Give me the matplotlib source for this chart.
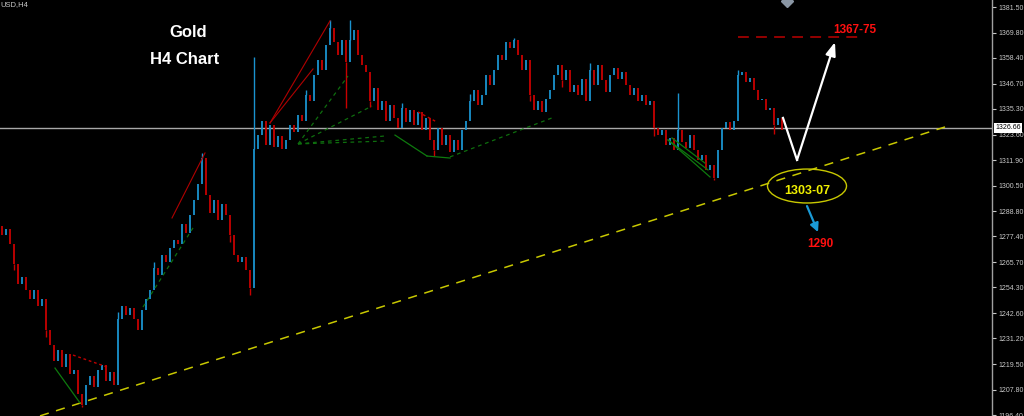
import matplotlib
matplotlib.use("Agg")
import matplotlib.pyplot as plt
from matplotlib.patches import Ellipse
import numpy as np

# ---------------- data ----------------
first_open = 1282.0
closes = [
    1278, 1281, 1274, 1265, 1256, 1259, 1253, 1249, 1253, 1246,
    1249, 1235, 1228, 1221, 1226, 1218, 1224, 1215, 1217, 1206,
    1201, 1210, 1214, 1209, 1217, 1219, 1212, 1216, 1210, 1240,
    1246, 1242, 1245, 1240, 1235, 1244, 1249, 1253, 1263, 1260,
    1269, 1266, 1272, 1276, 1274, 1283, 1279, 1287, 1294, 1301,
    1313, 1296, 1288, 1294, 1285, 1292, 1287, 1278, 1269, 1266,
    1268, 1262, 1254, 1317, 1323.5, 1330, 1319, 1328, 1318, 1323,
    1317, 1321, 1328, 1325, 1332.5, 1330, 1341.6, 1339, 1350.7, 1357.5,
    1353, 1364.3, 1372, 1365.6, 1359.7, 1366.6, 1356.6, 1366.6, 1371, 1359.7,
    1355, 1352, 1339, 1344.8, 1334.8, 1339, 1330, 1337, 1331, 1326.6,
    1335.7, 1329.3, 1334.8, 1328, 1334, 1325.7, 1331, 1321, 1316.6, 1326.6,
    1319, 1323.5, 1315.7, 1321, 1316.6, 1325.7, 1330, 1339, 1343.9, 1337,
    1341.6, 1350.7, 1346, 1353, 1359.7, 1357.5, 1365.6, 1363, 1366.6, 1359.7,
    1353, 1357.5, 1341.6, 1334.8, 1339, 1334, 1340, 1343.9, 1350.7, 1355,
    1348.4, 1353, 1343, 1346, 1341.6, 1349, 1339, 1353, 1346, 1355,
    1348.4, 1343, 1350.7, 1353.8, 1349, 1352, 1346, 1341.6, 1344.8, 1339,
    1341.6, 1337, 1339, 1326.6, 1323.5, 1325.7, 1319, 1322, 1316.6, 1325.7,
    1320.3, 1317.5, 1323.5, 1316.6, 1312, 1314.4, 1307.6, 1310, 1304, 1316.6,
    1326.6, 1329.3, 1325.7, 1330, 1350.7, 1352, 1347.5, 1349.3, 1343.9, 1339.3,
    1340, 1334.8, 1335.7, 1328, 1331, 1325.7,
]
spike_idx = [3, 11, 20, 29, 38, 50, 57, 62, 63, 76, 82, 86, 87, 92, 100, 108,
             117, 128, 132, 140, 147, 163, 169, 178, 184, 193]
spike_price = [1262, 1232, 1200, 1243, 1266, 1315.3, 1275, 1250.9, 1358.8, 1344,
               1375.6, 1335.7, 1375.6, 1336, 1338, 1314, 1342, 1367.5, 1339,
               1345, 1356, 1323, 1342.5, 1303, 1353, 1324]

current_price = 1326.66
ytick_vals = [1196.40, 1207.80, 1219.50, 1231.20, 1242.60, 1254.30, 1265.70,
              1277.40, 1288.80, 1300.50, 1311.90, 1323.60, 1335.30, 1346.70,
              1358.40, 1369.80, 1381.50]

trend_x = [9.5, 235.75]
trend_y = [1196.0, 1327.1]
target_x = [184, 215.25]
target_price = 1367.9
path_x = [195.25, 198.75, 208.25]
path_y = [1331.2, 1312.1, 1365.6]
support_center = (201.25, 1300.3)
down_arrow_x = [201.25, 204.0]
down_arrow_y = [1291.2, 1279.4]

red_solid = [((67, 1328.9), (82, 1375.2)), ((67, 1328.9), (77.75, 1353.4)),
             ((42.5, 1285.8), (50.75, 1315.3))]
red_dotted = [((17.75, 1223.6), (26.25, 1218.2)), ((104, 1333.9), (108.75, 1329.3))]
green_dashed = [((74, 1319.4), (86.5, 1350.2)), ((74, 1319.4), (92.5, 1336.6)),
                ((74, 1319.4), (95.75, 1323.0)), ((74, 1319.4), (95.75, 1320.7)),
                ((112, 1313.5), (137.5, 1331.2)), ((35.25, 1245.4), (47.75, 1281.3))]
green_solid = [((98.25, 1323.4), (106.25, 1313.9)), ((106.25, 1313.9), (112, 1313.0)),
               ((166.5, 1321.2), (177, 1304.4)), ((166.5, 1321.2), (176.5, 1307.6)),
               ((167.5, 1322.1), (175.75, 1310.7)), ((13.25, 1217.7), (19.5, 1201.9))]

# ---------------- figure ----------------
plt.rcParams['font.family'] = ['DejaVu Sans']
fig = plt.figure(figsize=(10.24, 4.16), dpi=100, facecolor='black')
ax = fig.add_axes([0, 0, 992 / 1024, 1])
ax.set_facecolor('black')

BLUE = '#1a93cf'
RED = '#c80000'

opens = [first_open] + closes[:-1]
xs = np.arange(len(closes))
cols = [BLUE if c >= o else RED for o, c in zip(opens, closes)]
ax.vlines(xs, opens, closes, colors=cols, linewidth=1.3, zorder=3)
for i, p in zip(spike_idx, spike_price):
    ref = max(opens[i], closes[i]) if p > closes[i] else min(opens[i], closes[i])
    ax.vlines(i, ref, p, colors=cols[i], linewidth=1.0, zorder=3)

# price line
ax.axhline(current_price, color='#a8a8a8', linewidth=1.0, zorder=2)

# trendline
ax.plot(trend_x, trend_y, color='#c8c800', linewidth=1.1, dashes=(6, 5), zorder=4)

# analysis objects
for (a, b) in red_solid:
    ax.plot([a[0], b[0]], [a[1], b[1]], color='#b00000', linewidth=0.8, zorder=4)
for (a, b) in red_dotted:
    ax.plot([a[0], b[0]], [a[1], b[1]], color='#c00000', linewidth=1.0, linestyle=(0, (2, 2)), zorder=4)
for (a, b) in green_dashed:
    ax.plot([a[0], b[0]], [a[1], b[1]], color='#0e6e0e', linewidth=0.9, linestyle=(0, (3, 3)), zorder=4)
for (a, b) in green_solid:
    ax.plot([a[0], b[0]], [a[1], b[1]], color='#0e7a0e', linewidth=0.9, zorder=4)

# target
ax.plot(target_x, [target_price, target_price], color='#a00000', linewidth=1.3, dashes=(6, 4), zorder=4)
ax.text(213.25, 1371.1, '1367-75', color='#ff1010', fontsize=8.5, fontweight='bold',
        family='Liberation Sans', ha='center', va='center', zorder=6)

# white path arrow
ax.plot(path_x[:2], path_y[:2], color='white', linewidth=1.6, zorder=5)
ax.annotate('', xy=(path_x[2], path_y[2]), xytext=(path_x[1], path_y[1]),
            arrowprops=dict(arrowstyle='-|>,head_length=0.8,head_width=0.3', color='white',
                            linewidth=1.6, shrinkA=0, shrinkB=0), zorder=5)

# support ellipse
ax.add_patch(Ellipse(support_center, 19.75, 15.4, fill=False, edgecolor='#c8c800', linewidth=1.0, zorder=5))
ax.text(201.25, 1298.0, '1303-07', color='#f0f000', fontsize=9, fontweight='bold',
        family='Liberation Sans', ha='center', va='center', zorder=6)
ax.annotate('', xy=(down_arrow_x[1], down_arrow_y[1]), xytext=(down_arrow_x[0], down_arrow_y[0]),
            arrowprops=dict(arrowstyle='-|>,head_length=0.5,head_width=0.25', color='#1a9ad6',
                            linewidth=1.6, shrinkA=0, shrinkB=0), zorder=5)
ax.text(204.5, 1274.0, '1290', color='#ff1010', fontsize=8.5, fontweight='bold',
        family='Liberation Sans', ha='center', va='center', zorder=6)

# titles
ax.text(0.1895, 0.921, 'Gold', transform=ax.transAxes, color='white', fontsize=12,
        fontweight='bold', family='Liberation Sans', ha='center', va='center')
ax.text(0.1865, 0.858, 'H4 Chart', transform=ax.transAxes, color='white', fontsize=12,
        fontweight='bold', family='Liberation Sans', ha='center', va='center')
ax.text(0.0, 0.998, 'USD,H4', transform=ax.transAxes, color='#c8c8c8', fontsize=5.5,
        family='Liberation Sans', ha='left', va='top')

# marker at top
ax.plot([196.25], [1384.2], marker='D', color='#8a96a4', markersize=6, clip_on=True, zorder=6)

# axes
ax.set_xlim(-0.5, 247.5)
ax.set_ylim(1195.95, 1384.7)
ax.set_xticks([])
ax.yaxis.tick_right()
ax.set_yticks(ytick_vals)
ax.set_yticklabels([f'{v:.2f}' for v in ytick_vals], family='Liberation Sans')
ax.tick_params(axis='y', colors='#c8c8c8', labelsize=5, length=3, width=0.8, pad=1.5, direction='out')
for s in ['top', 'left', 'bottom']:
    ax.spines[s].set_visible(False)
ax.spines['right'].set_color('#a0a0a0')
ax.spines['right'].set_linewidth(1.0)

ax.text(1.003, current_price, f'{current_price:.2f}', transform=ax.get_yaxis_transform(),
        color='black', fontsize=5, family='Liberation Sans', ha='left', va='center', clip_on=False,
        bbox=dict(boxstyle='square,pad=0.2', facecolor='white', edgecolor='none'), zorder=7)

fig.savefig('out.png', dpi=100, facecolor='black')
